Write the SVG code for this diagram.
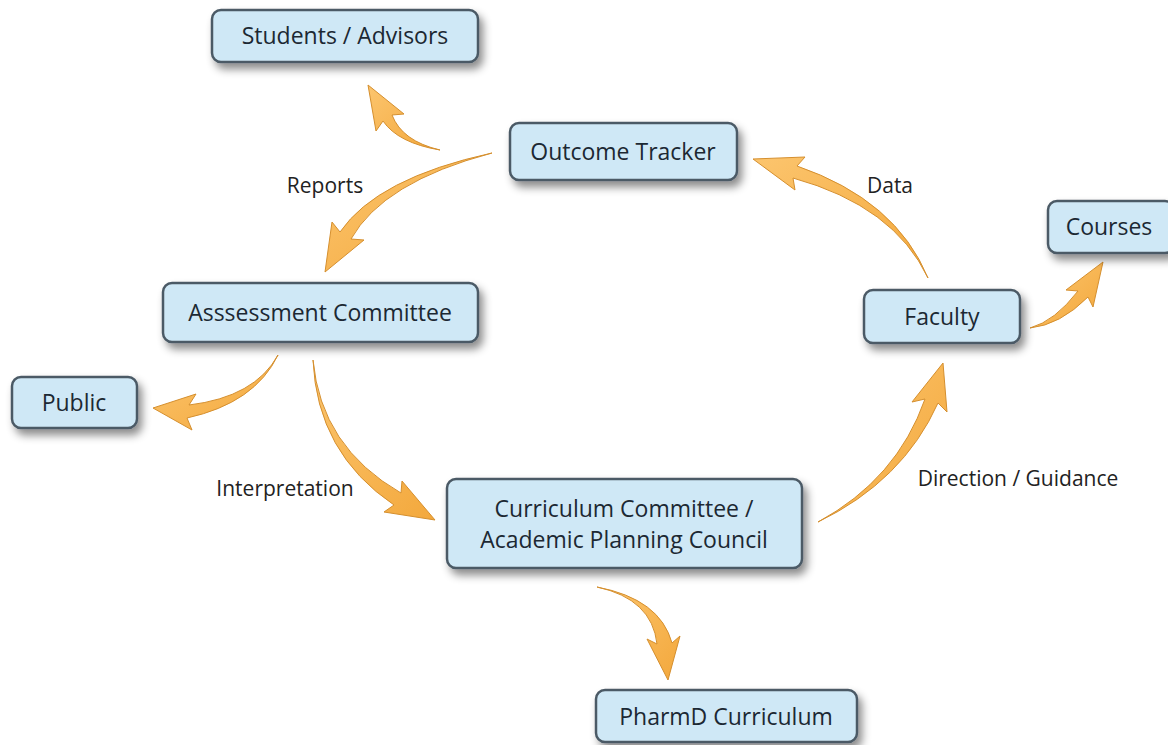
<svg xmlns="http://www.w3.org/2000/svg" width="1168" height="745" viewBox="0 0 1168 745">
  <defs>
    <filter id="shadow" x="-10%" y="-20%" width="130%" height="160%">
      <feDropShadow dx="4" dy="6" stdDeviation="4" flood-color="#000" flood-opacity="0.45"/>
    </filter>
    <linearGradient id="arrowFill" x1="0" y1="0" x2="1" y2="1">
      <stop offset="0" stop-color="#fcc56e"/>
      <stop offset="1" stop-color="#f3a83c"/>
    </linearGradient>
  </defs>
  <style>
    .box { fill: #cfe8f6; stroke: #4b5a66; stroke-width: 2.5; filter: url(#shadow); }
    .nt { font-family: "Open Sans", "Noto Sans", sans-serif; font-size: 23px; font-weight: 500; fill: #1c2833; text-anchor: middle; }
    .lbl { font-family: "Open Sans", "Noto Sans", sans-serif; font-size: 21px; fill: #222; text-anchor: middle; }
    .arr { fill: url(#arrowFill); stroke: #d58f2e; stroke-width: 1; stroke-linejoin: round; }
  </style>
  <rect width="1168" height="745" fill="#ffffff"/>

  <g id="connectors">
    <path class="arr" d="M928,278 Q896,200 797,166 L805,157 L753,159 L795,190 L793,178 Q894,206 928,278 Z"/>
    <path class="arr" d="M440,150 Q402,141 392,115 L404,114 L368,85 L376,131 L383,121 Q398,143 440,150 Z"/>
    <path class="arr" d="M492,153 Q377,178 340,232 L332,222 L325,272 L364,240 L351,239 Q383,182 492,153 Z"/>
    <path class="arr" d="M278,355 Q255,397 189,405 L196,394 L153,408 L192,430 L187,418 Q255,403 278,355 Z"/>
    <path class="arr" d="M313,360 Q317,453 394,505 L384,512 L435,520 L402,481 L401,493 Q321,447 313,360 Z"/>
    <path class="arr" d="M597,587 Q652,599 657,644 L647,639 L668,680 L680,636 L672,643 Q660,599 597,587 Z"/>
    <path class="arr" d="M818,522 Q903,481 938,403 L947,412 L943,363 L912,402 L925,399 Q897,479 818,522 Z"/>
    <path class="arr" d="M1030,328 Q1060,325 1088,297 L1093,307 L1103,262 L1066,290 L1078,291 Q1055,321 1030,328 Z"/>
    <text class="lbl" x="325" y="193">Reports</text>
    <text class="lbl" x="890" y="193">Data</text>
    <text class="lbl" x="285" y="496">Interpretation</text>
    <text class="lbl" x="1018" y="486">Direction / Guidance</text>
  </g>

  <g id="students-advisors">
    <rect class="box" x="212" y="10" width="266" height="52" rx="9"/>
    <text class="nt" x="345" y="44">Students / Advisors</text>
  </g>
  <g id="outcome-tracker">
    <rect class="box" x="510" y="123" width="227" height="57" rx="9"/>
    <text class="nt" x="623" y="160">Outcome Tracker</text>
  </g>
  <g id="assessment-committee">
    <rect class="box" x="163" y="283" width="315" height="59" rx="9"/>
    <text class="nt" x="320" y="321">Asssessment Committee</text>
  </g>
  <g id="public">
    <rect class="box" x="12" y="377" width="125" height="51" rx="9"/>
    <text class="nt" x="74" y="411">Public</text>
  </g>
  <g id="curriculum-committee">
    <rect class="box" x="447" y="479" width="355" height="89" rx="9"/>
    <text class="nt" x="624" y="517">Curriculum Committee /</text>
    <text class="nt" x="624" y="548">Academic Planning Council</text>
  </g>
  <g id="pharmd-curriculum">
    <rect class="box" x="596" y="690" width="261" height="52" rx="9"/>
    <text class="nt" x="726" y="725">PharmD Curriculum</text>
  </g>
  <g id="courses">
    <rect class="box" x="1048" y="201" width="126" height="52" rx="9"/>
    <text class="nt" x="1109" y="235">Courses</text>
  </g>
  <g id="faculty">
    <rect class="box" x="864" y="290" width="156" height="53" rx="9"/>
    <text class="nt" x="942" y="325">Faculty</text>
  </g>
</svg>
